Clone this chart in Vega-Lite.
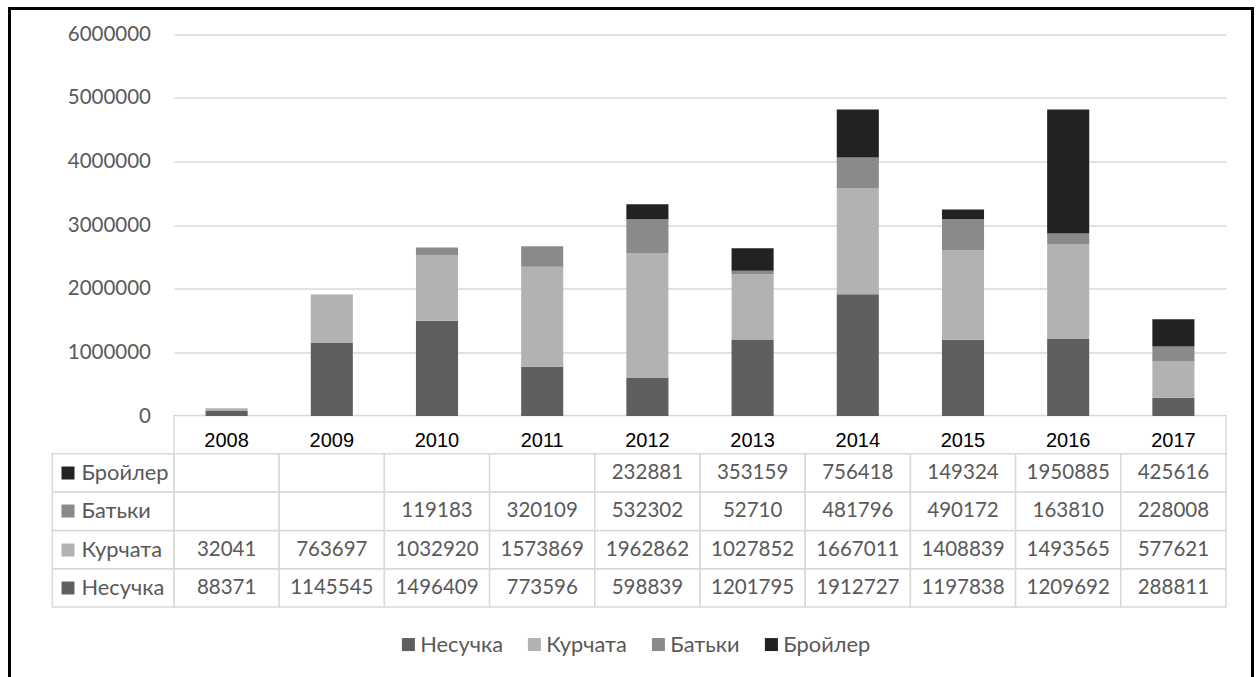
{
  "$schema": "https://vega.github.io/schema/vega-lite/v6.json",
  "autosize": "none",
  "width": 1243,
  "height": 671,
  "padding": {"left": 9.5, "top": 8.5, "right": 5.5, "bottom": -3},
  "background": "#ffffff",
  "config": {
    "view": {"stroke": "#000000", "strokeWidth": 3},
    "font": "Lato"
  },
  "data": {
    "values": [
      {"year": "2008", "series": "Несучка", "value": 88371},
      {"year": "2008", "series": "Курчата", "value": 32041},
      {"year": "2008", "series": "Батьки", "value": null},
      {"year": "2008", "series": "Бройлер", "value": null},
      {"year": "2009", "series": "Несучка", "value": 1145545},
      {"year": "2009", "series": "Курчата", "value": 763697},
      {"year": "2009", "series": "Батьки", "value": null},
      {"year": "2009", "series": "Бройлер", "value": null},
      {"year": "2010", "series": "Несучка", "value": 1496409},
      {"year": "2010", "series": "Курчата", "value": 1032920},
      {"year": "2010", "series": "Батьки", "value": 119183},
      {"year": "2010", "series": "Бройлер", "value": null},
      {"year": "2011", "series": "Несучка", "value": 773596},
      {"year": "2011", "series": "Курчата", "value": 1573869},
      {"year": "2011", "series": "Батьки", "value": 320109},
      {"year": "2011", "series": "Бройлер", "value": null},
      {"year": "2012", "series": "Несучка", "value": 598839},
      {"year": "2012", "series": "Курчата", "value": 1962862},
      {"year": "2012", "series": "Батьки", "value": 532302},
      {"year": "2012", "series": "Бройлер", "value": 232881},
      {"year": "2013", "series": "Несучка", "value": 1201795},
      {"year": "2013", "series": "Курчата", "value": 1027852},
      {"year": "2013", "series": "Батьки", "value": 52710},
      {"year": "2013", "series": "Бройлер", "value": 353159},
      {"year": "2014", "series": "Несучка", "value": 1912727},
      {"year": "2014", "series": "Курчата", "value": 1667011},
      {"year": "2014", "series": "Батьки", "value": 481796},
      {"year": "2014", "series": "Бройлер", "value": 756418},
      {"year": "2015", "series": "Несучка", "value": 1197838},
      {"year": "2015", "series": "Курчата", "value": 1408839},
      {"year": "2015", "series": "Батьки", "value": 490172},
      {"year": "2015", "series": "Бройлер", "value": 149324},
      {"year": "2016", "series": "Несучка", "value": 1209692},
      {"year": "2016", "series": "Курчата", "value": 1493565},
      {"year": "2016", "series": "Батьки", "value": 163810},
      {"year": "2016", "series": "Бройлер", "value": 1950885},
      {"year": "2017", "series": "Несучка", "value": 288811},
      {"year": "2017", "series": "Курчата", "value": 577621},
      {"year": "2017", "series": "Батьки", "value": 228008},
      {"year": "2017", "series": "Бройлер", "value": 425616}
    ]
  },
  "resolve": {"scale": {"x": "independent", "y": "independent"}},
  "layer": [
    {
      "transform": [{"aggregate": [{"op": "count", "as": "n"}], "groupby": ["series"]}],
      "mark": {"type": "rect", "fill": "#ffffff", "stroke": "#d9d9d9", "strokeWidth": 1.5},
      "encoding": {
        "x": {
          "datum": "Ряд",
          "type": "nominal",
          "scale": {"type": "band", "domain": ["Ряд"], "range": [42.8, 164.5], "paddingInner": 0, "paddingOuter": 0},
          "axis": null
        },
        "y": {
          "field": "series",
          "type": "nominal",
          "scale": {"type": "band", "domain": ["Рік", "Бройлер", "Батьки", "Курчата", "Несучка"], "range": [407, 598.5], "paddingInner": 0, "paddingOuter": 0},
          "axis": null
        }
      }
    },
    {
      "layer": [
        {
          "transform": [{"aggregate": [{"op": "count", "as": "n"}]}],
          "mark": {"type": "rect", "fill": "#ffffff", "stroke": "#d9d9d9", "strokeWidth": 1.5},
          "encoding": {
            "x": {"datum": "2008", "type": "nominal", "bandPosition": 0},
            "x2": {"datum": "2017", "bandPosition": 1},
            "y": {"datum": "Рік", "type": "nominal"}
          }
        },
        {
          "mark": {"type": "rect", "fill": "#ffffff", "stroke": "#d9d9d9", "strokeWidth": 1.5},
          "encoding": {
            "x": {
              "field": "year",
              "type": "nominal",
              "scale": {"type": "band", "domain": ["2008", "2009", "2010", "2011", "2012", "2013", "2014", "2015", "2016", "2017"], "range": [164.5, 1216.5], "paddingInner": 0, "paddingOuter": 0},
              "axis": {
                "orient": "top",
                "offset": -445.3,
                "domain": false,
                "ticks": false,
                "tickSize": 0,
                "grid": false,
                "labelAngle": 0,
                "labelAlign": "center",
                "labelPadding": 13.8,
                "labelBaseline": "middle",
                "labelFont": "Liberation Sans",
                "labelFontSize": 20,
                "labelColor": "#000000",
                "title": null
              }
            },
            "y": {
              "field": "series",
              "type": "nominal",
              "scale": {"type": "band", "domain": ["Рік", "Бройлер", "Батьки", "Курчата", "Несучка"], "range": [407, 598.5], "paddingInner": 0, "paddingOuter": 0},
              "axis": {
                "orient": "left",
                "offset": -64.5,
                "domain": false,
                "grid": false,
                "ticks": true,
                "tickSize": 13,
                "tickWidth": 13,
                "tickCap": "butt",
                "tickColor": {"expr": "datum.value === 'Бройлер' ? '#222222' : datum.value === 'Батьки' ? '#8a8a8a' : datum.value === 'Курчата' ? '#b2b2b2' : datum.value === 'Несучка' ? '#5f5f5f' : 'transparent'"},
                "labelExpr": "datum.value === 'Рік' ? '' : datum.label",
                "labelAlign": "left",
                "labelPadding": -20,
                "labelFont": "Lato",
                "labelFontSize": 21.8,
                "labelColor": "#595959",
                "title": null
              }
            }
          }
        },
        {
          "transform": [{"filter": "isValid(datum.value)"}],
          "mark": {"type": "text", "font": "Lato", "fontSize": 20.5, "color": "#595959", "baseline": "middle"},
          "encoding": {
            "x": {"field": "year", "type": "nominal"},
            "y": {"field": "series", "type": "nominal"},
            "text": {"field": "value", "type": "quantitative", "format": "d"}
          }
        }
      ]
    },
    {
      "transform": [
        {"filter": "isValid(datum.value)"},
        {"window": [{"op": "row_number", "as": "k"}]}
      ],
      "mark": {"type": "bar", "width": {"band": 0.4}},
      "encoding": {
        "x": {
          "field": "year",
          "type": "nominal",
          "scale": {"type": "band", "domain": ["2008", "2009", "2010", "2011", "2012", "2013", "2014", "2015", "2016", "2017"], "range": [164.5, 1216.5], "paddingInner": 0, "paddingOuter": 0},
          "axis": null
        },
        "y": {
          "field": "value",
          "type": "quantitative",
          "stack": "zero",
          "scale": {"domain": [0, 6000000], "range": [407.5, 25.8], "nice": false, "zero": true},
          "axis": {
            "orient": "left",
            "offset": -164.5,
            "values": [0, 1000000, 2000000, 3000000, 4000000, 5000000, 6000000],
            "format": "d",
            "grid": true,
            "gridColor": "#d9d9d9",
            "gridWidth": 1.3,
            "domain": false,
            "ticks": false,
            "tickSize": 0,
            "labelPadding": 23.5,
            "labelFont": "Lato",
            "labelFontSize": 20.5,
            "labelColor": "#595959",
            "title": null
          }
        },
        "color": {
          "field": "series",
          "type": "nominal",
          "scale": {"domain": ["Несучка", "Курчата", "Батьки", "Бройлер"], "range": ["#5f5f5f", "#b2b2b2", "#8a8a8a", "#222222"]},
          "legend": {
            "orient": "none",
            "legendX": 388,
            "legendY": 625,
            "direction": "horizontal",
            "title": null,
            "symbolType": "square",
            "symbolSize": 169,
            "symbolStrokeWidth": 0,
            "labelFont": "Lato",
            "labelFontSize": 21.8,
            "labelColor": "#595959",
            "labelOffset": 1,
            "columnPadding": 20,
            "padding": 0
          }
        },
        "order": {"field": "k", "type": "quantitative"}
      }
    }
  ]
}
